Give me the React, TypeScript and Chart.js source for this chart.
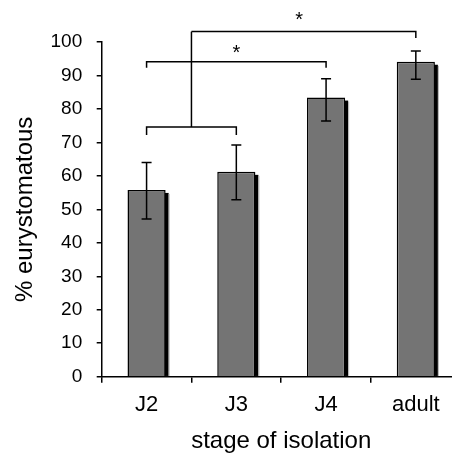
import React, { useEffect, useRef } from "react";
import { Chart, registerables } from "chart.js";

Chart.register(...registerables);

const categories = ["J2", "J3", "J4", "adult"];
const values = [55.8, 61.2, 83.4, 94.1];
const errHigh = [64.0, 69.2, 89.0, 97.3];
const errLow = [47.1, 52.9, 76.4, 88.9];
const yTicks = [0, 10, 20, 30, 40, 50, 60, 70, 80, 90, 100];

// brackets: [xStart, xEnd, y, leftLegEnd, rightLegEnd] (null = no leg)
const bracketLow = [0, 1, 74.6, 72.2, 72.2];
const bracketStem = [0.5, 74.6, 103.1];
const bracketTop = [0.5, 3, 103.1, null, 101.2];
const bracketMid = [0, 2, 94.1, 92.3, 92.3];
const stars = [
  { x: 1, y: 96.6 },
  { x: 1.7, y: 106.5 },
];

const FONT = "'Liberation Sans', Arial, sans-serif";

const overlayPlugin = {
  id: "overlay",
  beforeDatasetsDraw(chart: any) {
    const ctx = chart.ctx;
    const meta = chart.getDatasetMeta(0);
    ctx.save();
    meta.data.forEach((bar: any) => {
      const { x, y, base, width } = bar.getProps(["x", "y", "base", "width"], true);
      const right = x + width / 2;
      ctx.fillStyle = "#000";
      ctx.fillRect(right - 1, y + 3, 4, base - y - 3);
      ctx.fillStyle = "#b5b5b5";
      ctx.fillRect(right + 3, y + 4, 1, base - y - 4);
    });
    ctx.restore();
  },
  afterDatasetsDraw(chart: any) {
    const ctx = chart.ctx;
    const xs = chart.scales.x;
    const ys = chart.scales.y;
    const px = (v: number) => xs.getPixelForValue(v);
    const py = (v: number) => ys.getPixelForValue(v);
    ctx.save();
    ctx.strokeStyle = "#000";
    ctx.lineWidth = 1.5;
    // error bars
    categories.forEach((_, i) => {
      const x = px(i);
      const cap = 5;
      ctx.beginPath();
      ctx.moveTo(x, py(errLow[i]));
      ctx.lineTo(x, py(errHigh[i]));
      ctx.moveTo(x - cap, py(errLow[i]));
      ctx.lineTo(x + cap, py(errLow[i]));
      ctx.moveTo(x - cap, py(errHigh[i]));
      ctx.lineTo(x + cap, py(errHigh[i]));
      ctx.stroke();
    });
    const drawBracket = (b: any[]) => {
      const [x1, x2, y, l1, l2] = b;
      ctx.beginPath();
      if (l1 !== null) {
        ctx.moveTo(px(x1), py(l1));
        ctx.lineTo(px(x1), py(y));
      } else {
        ctx.moveTo(px(x1), py(y));
      }
      ctx.lineTo(px(x2), py(y));
      if (l2 !== null) ctx.lineTo(px(x2), py(l2));
      ctx.stroke();
    };
    drawBracket(bracketLow);
    drawBracket(bracketTop);
    drawBracket(bracketMid);
    ctx.beginPath();
    ctx.moveTo(px(bracketStem[0]), py(bracketStem[1]));
    ctx.lineTo(px(bracketStem[0]), py(bracketStem[2]));
    ctx.stroke();
    ctx.fillStyle = "#000";
    ctx.font = `20px ${FONT}`;
    ctx.textAlign = "center";
    ctx.textBaseline = "middle";
    stars.forEach((s) => ctx.fillText("*", px(s.x), py(s.y)));
    ctx.restore();
  },
};

export default function App() {
  const ref = useRef<HTMLCanvasElement>(null);
  useEffect(() => {
    if (!ref.current) return;
    const chart = new Chart(ref.current, {
      type: "bar",
      data: {
        labels: categories,
        datasets: [
          {
            data: values,
            backgroundColor: "#747474",
            borderColor: "#000",
            borderWidth: 1.5,
            barPercentage: 0.85,
            categoryPercentage: 0.5,
          },
        ],
      },
      options: {
        responsive: false,
        animation: false,
        devicePixelRatio: 1,
        layout: { padding: { left: 0, right: 9.3, top: 42, bottom: 0 } },
        plugins: { legend: { display: false }, tooltip: { enabled: false } },
        scales: {
          x: {
            grid: {
              display: true,
              drawOnChartArea: false,
              drawTicks: true,
              tickLength: 6,
              color: "#000",
              lineWidth: 1.5,
            },
            border: { display: true, color: "#000", width: 1.5 },
            ticks: { color: "#000", font: { family: FONT, size: 22 }, padding: 9.5 },
            title: {
              display: true,
              text: "stage of isolation",
              color: "#000",
              font: { family: FONT, size: 24, lineHeight: 1 },
              padding: { top: 0, bottom: 0 },
            },
            afterFit: (scale: any) => {
              scale.height = 76.3;
            },
          },
          y: {
            min: 0,
            max: 100,
            afterBuildTicks: (scale: any) => {
              scale.ticks = yTicks.map((v) => ({ value: v }));
            },
            grid: {
              display: true,
              drawOnChartArea: false,
              drawTicks: true,
              tickLength: 5,
              color: "#000",
              lineWidth: 1.5,
            },
            border: { display: true, color: "#000", width: 1.5 },
            ticks: { color: "#000", font: { family: FONT, size: 19 }, padding: 14.5 },
            title: {
              display: true,
              text: "% eurystomatous",
              color: "#000",
              font: { family: FONT, size: 24, lineHeight: 1 },
              padding: { top: 13, bottom: 0 },
            },
            afterFit: (scale: any) => {
              scale.width = 101.7;
            },
          },
        },
      },
      plugins: [overlayPlugin],
    });
    return () => chart.destroy();
  }, []);
  return (
    <div
      style={{
        position: "fixed",
        left: 0,
        top: 0,
        width: 452,
        height: 453,
        overflow: "hidden",
        background: "#fff",
      }}
    >
      <canvas ref={ref} width={470} height={453} style={{ display: "block" }} />
    </div>
  );
}
